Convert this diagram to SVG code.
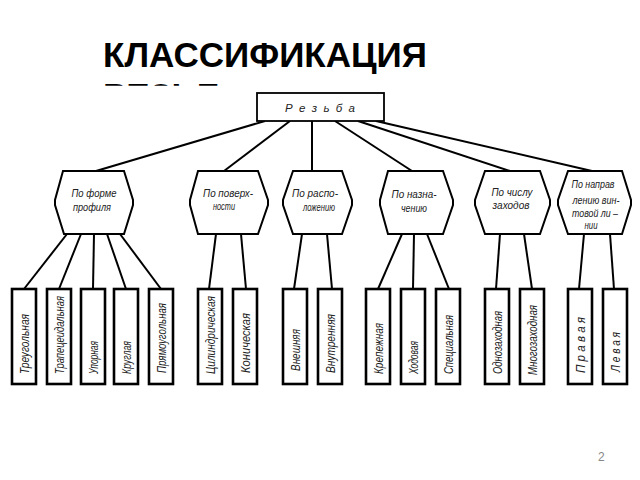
<svg xmlns="http://www.w3.org/2000/svg" width="640" height="480" viewBox="0 0 640 480">
<style>
.title{font-family:"Liberation Sans",Arial,sans-serif;font-weight:bold;font-size:35px;fill:#000}
.g{font-family:"Liberation Sans",Arial,sans-serif;font-style:italic;font-size:11.5px;fill:#222}
.l{font-size:12.5px}
.hex{fill:#fff;stroke:#000;stroke-width:2}
.leaf{fill:#fff;stroke:#000;stroke-width:2.6}
.top{fill:#fff;stroke:#000;stroke-width:1.8}
#connectors line{stroke:#000;stroke-width:2}
.c{text-anchor:middle}
</style>
<defs>
<clipPath id="cut"><rect x="90" y="82.5" width="200" height="3.2"/></clipPath>
</defs>
<rect width="640" height="480" fill="#fff"/>
<g id="title">
<text class="title" x="103" y="67" textLength="324" lengthAdjust="spacingAndGlyphs">КЛАССИФИКАЦИЯ</text>
<text class="title" x="103" y="108" clip-path="url(#cut)">РЕЗЬБ</text>
</g>
<g id="connectors">
<line x1="265" y1="121" x2="96" y2="171"/>
<line x1="290" y1="121" x2="224" y2="171"/>
<line x1="312" y1="121" x2="312" y2="171"/>
<line x1="335" y1="121" x2="412" y2="171"/>
<line x1="358" y1="121" x2="510" y2="171"/>
<line x1="376" y1="121" x2="592" y2="171"/>
<line x1="67" y1="234" x2="24" y2="289"/>
<line x1="81" y1="234" x2="59" y2="289"/>
<line x1="94" y1="234" x2="93" y2="289"/>
<line x1="107" y1="234" x2="126" y2="289"/>
<line x1="120" y1="234" x2="161" y2="289"/>
<line x1="216" y1="234" x2="209" y2="289"/>
<line x1="241" y1="234" x2="246" y2="289"/>
<line x1="302" y1="234" x2="294" y2="289"/>
<line x1="327" y1="234" x2="332" y2="289"/>
<line x1="402" y1="234" x2="378" y2="289"/>
<line x1="414" y1="234" x2="413" y2="289"/>
<line x1="427" y1="234" x2="449" y2="289"/>
<line x1="500" y1="234" x2="496" y2="289"/>
<line x1="524" y1="234" x2="532" y2="289"/>
<line x1="584" y1="234" x2="579" y2="289"/>
<line x1="610" y1="234" x2="614" y2="289"/>
</g>
<g id="root">
<rect class="top" x="257" y="93" width="127" height="28"/>
<text class="g c" x="320" y="112" font-size="14" textLength="70" lengthAdjust="spacing">Р е з ь б а</text>
</g>
<g id="hex1">
<path class="hex" d="M63,171 L124,171 L133,200 L133,205 L124,234 L64,234 L55,205 L55,200 Z"/>
<text class="g c" x="94" y="197" textLength="45" lengthAdjust="spacingAndGlyphs">По форме</text>
<text class="g c" x="92" y="211" textLength="38" lengthAdjust="spacingAndGlyphs">профиля</text>
</g>
<g id="hex2">
<path class="hex" d="M198,171 L258,171 L268,200 L268,205 L258,234 L198,234 L190,205 L190,200 Z"/>
<text class="g c" x="228" y="197" textLength="50" lengthAdjust="spacingAndGlyphs">По поверх-</text>
<text class="g c" x="224" y="210" textLength="22" lengthAdjust="spacingAndGlyphs">ности</text>
</g>
<g id="hex3">
<path class="hex" d="M293,171 L342,171 L352,200 L352,205 L342,234 L293,234 L283,205 L283,200 Z"/>
<text class="g c" x="315" y="197" textLength="46" lengthAdjust="spacingAndGlyphs">По распо-</text>
<text class="g c" x="319" y="211" textLength="32" lengthAdjust="spacingAndGlyphs">ложению</text>
</g>
<g id="hex4">
<path class="hex" d="M388,171 L443,171 L453,200 L453,205 L443,234 L388,234 L380,205 L380,200 Z"/>
<text class="g c" x="414" y="198" textLength="45" lengthAdjust="spacingAndGlyphs">По назна-</text>
<text class="g c" x="414" y="212" textLength="26" lengthAdjust="spacingAndGlyphs">чению</text>
</g>
<g id="hex5">
<path class="hex" d="M485,171 L540,171 L550,200 L550,205 L540,234 L485,234 L475,205 L475,200 Z"/>
<text class="g c" x="512" y="196" textLength="41" lengthAdjust="spacingAndGlyphs">По числу</text>
<text class="g c" x="511" y="209" textLength="37" lengthAdjust="spacingAndGlyphs">заходов</text>
</g>
<g id="hex6">
<path class="hex" d="M568,171 L622,171 L631,200 L631,205 L622,234 L568,234 L558,205 L558,200 Z"/>
<text class="g c" x="593" y="188" textLength="43" lengthAdjust="spacingAndGlyphs">По направ</text>
<text class="g c" x="596" y="204" textLength="47" lengthAdjust="spacingAndGlyphs">лению вин-</text>
<text class="g c" x="595" y="217" textLength="46" lengthAdjust="spacingAndGlyphs">товой ли –</text>
<text class="g c" x="591" y="229" textLength="13" lengthAdjust="spacingAndGlyphs">нии</text>
</g>
<g id="leaf1"><rect class="leaf" x="12" y="289" width="24" height="95"/><text class="g l" transform="translate(28.5,374) rotate(-90)" textLength="60" lengthAdjust="spacingAndGlyphs">Треугольная</text></g>
<g id="leaf2"><rect class="leaf" x="47" y="289" width="24" height="95"/><text class="g l" transform="translate(63.5,374) rotate(-90)" textLength="78" lengthAdjust="spacingAndGlyphs">Трапецеидальная</text></g>
<g id="leaf3"><rect class="leaf" x="81" y="289" width="24" height="95"/><text class="g l" transform="translate(97.5,374) rotate(-90)" textLength="33" lengthAdjust="spacingAndGlyphs">Упорная</text></g>
<g id="leaf4"><rect class="leaf" x="114" y="289" width="24" height="95"/><text class="g l" transform="translate(130.5,374) rotate(-90)" textLength="33" lengthAdjust="spacingAndGlyphs">Круглая</text></g>
<g id="leaf5"><rect class="leaf" x="149" y="289" width="24" height="95"/><text class="g l" transform="translate(165.5,373) rotate(-90)" textLength="70" lengthAdjust="spacingAndGlyphs">Прямоугольная</text></g>
<g id="leaf6"><rect class="leaf" x="198" y="289" width="24" height="95"/><text class="g l" transform="translate(214.5,374) rotate(-90)" textLength="78" lengthAdjust="spacingAndGlyphs">Цилиндрическая</text></g>
<g id="leaf7"><rect class="leaf" x="233" y="289" width="24" height="95"/><text class="g l" transform="translate(249.5,373) rotate(-90)" textLength="60" lengthAdjust="spacingAndGlyphs">Коническая</text></g>
<g id="leaf8"><rect class="leaf" x="283" y="289" width="24" height="95"/><text class="g l" transform="translate(299.5,371) rotate(-90)" textLength="42" lengthAdjust="spacingAndGlyphs">Внешняя</text></g>
<g id="leaf9"><rect class="leaf" x="318" y="289" width="24" height="95"/><text class="g l" transform="translate(334.5,373) rotate(-90)" textLength="59" lengthAdjust="spacingAndGlyphs">Внутренняя</text></g>
<g id="leaf10"><rect class="leaf" x="366" y="289" width="24" height="95"/><text class="g l" transform="translate(382.5,374) rotate(-90)" textLength="51" lengthAdjust="spacingAndGlyphs">Крепежная</text></g>
<g id="leaf11"><rect class="leaf" x="401" y="289" width="24" height="95"/><text class="g l" transform="translate(417.5,374) rotate(-90)" textLength="33" lengthAdjust="spacingAndGlyphs">Ходовая</text></g>
<g id="leaf12"><rect class="leaf" x="436" y="289" width="24" height="95"/><text class="g l" transform="translate(452.5,374) rotate(-90)" textLength="59" lengthAdjust="spacingAndGlyphs">Специальная</text></g>
<g id="leaf13"><rect class="leaf" x="485" y="289" width="24" height="95"/><text class="g l" transform="translate(501.5,374) rotate(-90)" textLength="63" lengthAdjust="spacingAndGlyphs">Однозаходная</text></g>
<g id="leaf14"><rect class="leaf" x="520" y="289" width="24" height="95"/><text class="g l" transform="translate(536.5,375) rotate(-90)" textLength="70" lengthAdjust="spacingAndGlyphs">Многозаходная</text></g>
<g id="leaf15"><rect class="leaf" x="568" y="289" width="24" height="95"/><text class="g l" transform="translate(584.5,373) rotate(-90)" textLength="56" lengthAdjust="spacingAndGlyphs">П р а в а я</text></g>
<g id="leaf16"><rect class="leaf" x="603" y="289" width="24" height="95"/><text class="g l" transform="translate(619.5,372) rotate(-90)" textLength="40" lengthAdjust="spacingAndGlyphs">Л е в а я</text></g>
<text x="598" y="461" font-family="Liberation Sans,Arial,sans-serif" font-size="12" fill="#888">2</text>
</svg>
